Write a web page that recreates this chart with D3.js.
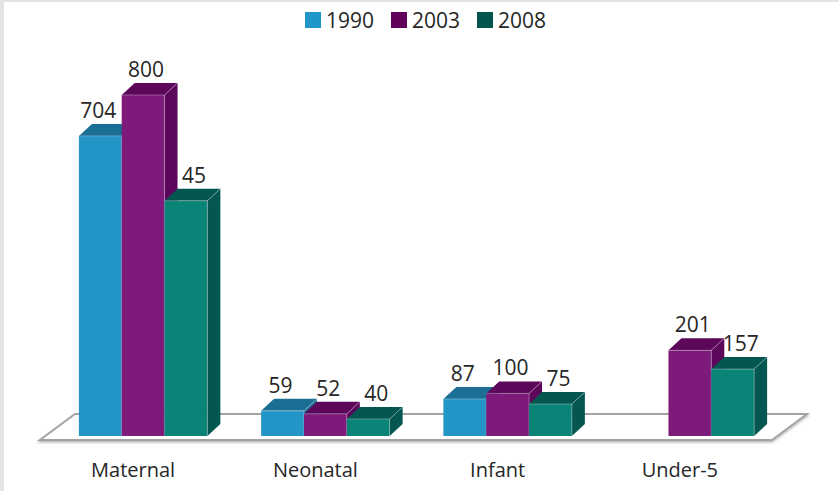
<!DOCTYPE html>
<html>
<head>
<meta charset="utf-8">
<script src="https://cdn.jsdelivr.net/npm/d3@7"></script>
<style>
	html, body { margin: 0; padding: 0; background: #fff; }
	svg { display: block; font-family: "Open Sans", "Noto Sans", sans-serif; }
</style>
</head>
<body>
<div class="svg-container"></div>
<script>
(function () {

	"use strict";

	// data
	var categories 	= [ "Maternal", "Neonatal", "Infant", "Under-5" ];
	var series 		= [ "1990", "2003", "2008" ];
	var v1990 		= [ 704, 59, 87, null ];
	var v2003 		= [ 800, 52, 100, 201 ];
	var v2008 		= [ 552, 40, 75, 157 ];
	// labels as printed on the chart
	var l1990 		= [ "704", "59", "87", "" ];
	var l2003 		= [ "800", "52", "100", "201" ];
	var l2008 		= [ "45", "40", "75", "157" ];

	var values = [ v1990, v2003, v2008 ];
	var labels = [ l1990, l2003, l2008 ];

	// colors
	var front 	= [ "#2395c7", "#7d1a7a", "#0b8478" ];
	var shade 	= [ "#1b6f95", "#5d075b", "#045650" ];
	var legendc = [ "#2196c8", "#620059", "#02544d" ];

	var width = 839, height = 491;
	var dx = 13, dy = 12;
	var base = 436;

	var svg = d3.select(".svg-container").append("svg")
		.attr("width", width)
		.attr("height", height);

	// frame
	svg.append("rect").attr("x", 0).attr("y", 0).attr("width", width).attr("height", 2).attr("fill", "#e4e4e4");
	svg.append("rect").attr("x", 0).attr("y", 0).attr("width", 4).attr("height", height).attr("fill", "#e4e4e4");

	var defs = svg.append("defs");
	var f = defs.append("filter").attr("id", "sh").attr("x", "-5%").attr("y", "-20%").attr("width", "110%").attr("height", "160%");
	f.append("feDropShadow").attr("dx", 0).attr("dy", 1.5).attr("stdDeviation", 1.2).attr("flood-color", "#000").attr("flood-opacity", 0.3);

	var x = d3.scaleBand().domain(categories).range([ 52, 781 ]).paddingInner(0.295).paddingOuter(0.1475);
	var xs = d3.scaleBand().domain(series).range([ 0, x.bandwidth() ]);
	var y = d3.scaleLinear().domain([ 0, 800 ]).range([ base, 95 ]);

	// floor
	var fl = [ [ 40, 440 ], [ 772, 440 ], [ 807, 414 ], [ 75, 414 ] ];
	svg.append("polygon")
		.attr("points", fl.map(function (p) { return p.join(","); }).join(" "))
		.attr("fill", "#fff")
		.attr("stroke", "#a3a3a3")
		.attr("stroke-width", 2)
		.attr("filter", "url(#sh)");

	// bars
	var bars = [];
	categories.forEach(function (c, ci) {
		series.forEach(function (s, si) {
			var v = values[si][ci];
			if (v == null) return;
			bars.push({ c: c, s: s, si: si, v: v, label: labels[si][ci] });
		});
	});

	var g = svg.append("g");

	var bar = g.selectAll(".bar")
		.data(bars)
		.enter()
		.append("g")
		.attr("class", "bar");

	bar.append("rect")
		.attr("x", function (d) { return x(d.c) + xs(d.s); })
		.attr("y", function (d) { return y(d.v); })
		.attr("width", xs.bandwidth())
		.attr("height", function (d) { return base - y(d.v); })
		.attr("fill", function (d) { return front[d.si]; });

	bar.append("polygon")
		.attr("points", function (d) {
			var x0 = x(d.c) + xs(d.s), x1 = x0 + xs.bandwidth(), t = y(d.v);
			return [ [ x0, t ], [ x0 + dx, t - dy ], [ x1 + dx, t - dy ], [ x1, t ] ].join(" ");
		})
		.attr("fill", function (d) { return shade[d.si]; });

	bar.append("polygon")
		.attr("points", function (d) {
			var x1 = x(d.c) + xs(d.s) + xs.bandwidth(), t = y(d.v);
			return [ [ x1, t ], [ x1 + dx, t - dy ], [ x1 + dx, base - dy ], [ x1, base ] ].join(" ");
		})
		.attr("fill", function (d) { return shade[d.si]; });

	// faint light edges
	bar.append("path")
		.attr("d", function (d) {
			var x0 = x(d.c) + xs(d.s), x1 = x0 + xs.bandwidth(), t = y(d.v);
			return "M" + x0 + "," + t + "H" + x1 + "L" + (x1 + dx) + "," + (t - dy) + "M" + x1 + "," + t + "V" + base;
		})
		.attr("fill", "none")
		.attr("stroke", "rgba(255,255,255,0.3)")
		.attr("stroke-width", 1);

	// value labels, nudged a little to the right for the later series
	svg.selectAll(".vlabel")
		.data(bars)
		.enter()
		.append("text")
		.attr("class", "vlabel")
		.attr("x", function (d) { return x(d.c) + xs(d.s) + xs.bandwidth() / 2 - 2 + d.si * 5; })
		.attr("y", function (d) { return y(d.v) - dy - 6; })
		.attr("text-anchor", "middle")
		.attr("font-size", 21)
		.attr("fill", "#262626")
		.text(function (d) { return d.label; });

	// category labels
	svg.selectAll(".clabel")
		.data(categories)
		.enter()
		.append("text")
		.attr("class", "clabel")
		.attr("x", function (d) { return x(d) + x.bandwidth() / 2 - 10; })
		.attr("y", 477)
		.attr("text-anchor", "middle")
		.attr("font-size", 20)
		.attr("fill", "#262626")
		.text(function (d) { return d; });

	// legend
	var lx = [ 305, 391, 477 ];
	var leg = svg.selectAll(".legend")
		.data(series)
		.enter()
		.append("g")
		.attr("class", "legend")
		.attr("transform", function (d, i) { return "translate(" + lx[i] + ",12)"; });

	leg.append("rect")
		.attr("width", 16)
		.attr("height", 16)
		.attr("fill", function (d, i) { return legendc[i]; });

	leg.append("text")
		.attr("x", 21)
		.attr("y", 16)
		.attr("font-size", 21)
		.attr("fill", "#262626")
		.text(function (d) { return d; });

})();
</script>
</body>
</html>
